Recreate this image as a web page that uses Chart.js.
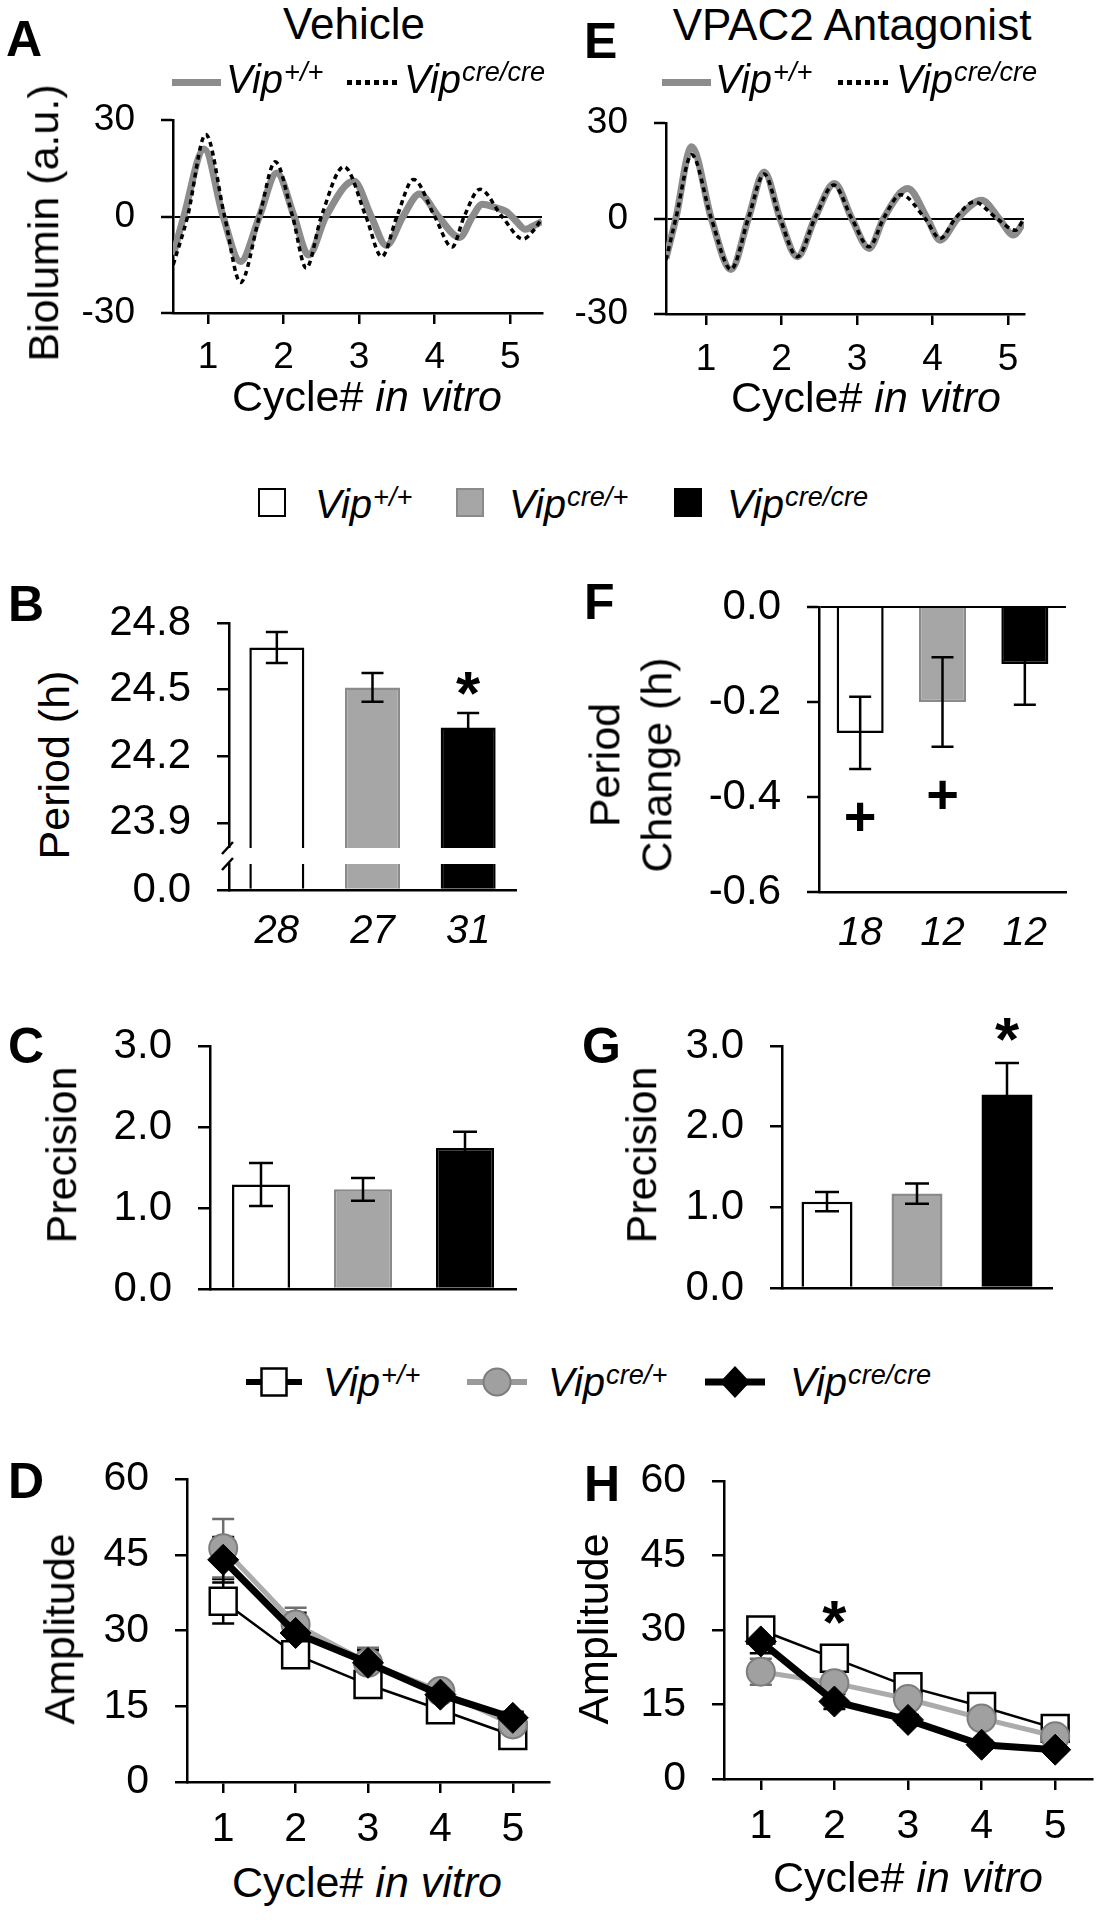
<!DOCTYPE html>
<html>
<head>
<meta charset="utf-8">
<script src="https://cdn.jsdelivr.net/npm/chart.js"></script>
<style>
  html, body { margin: 0; padding: 0; background: #fff; overflow: hidden; }
  #fig { position: relative; width: 1101px; height: 1920px; font-family: 'Liberation Sans', Arial, Helvetica, sans-serif; color: #000; }
  #fig canvas { position: absolute; }
  .t { position: absolute; line-height: 1; white-space: nowrap; }
  .sup { font-size: 0.68em; position: relative; top: -0.45em; margin-left: 1px; }
  .box { position: absolute; box-sizing: border-box; }
</style>
</head>
<body>
<div id="fig"></div>
<script>
const FONT = "'Liberation Sans', Arial, Helvetica, sans-serif";
Chart.defaults.font.family = FONT;
Chart.defaults.color = '#000';
Chart.defaults.animation = false;

// ---------- data ----------
const cycleTicks = [1, 2, 3, 4, 5];
const bioTicks = [-30, 0, 30];
const genoSup = ['+/+', 'cre/+', 'cre/cre'];

// A / E : detrended bioluminescence, [cycle, a.u.]
const vehWt = [[0.54,-12],[0.68,0],[0.95,21],[1.2,0],[1.43,-14],[1.68,0],[1.91,13.5],[2.14,0],[2.33,-12],[2.56,0],[2.93,11],[3.16,0],[3.36,-9],[3.58,0],[3.8,7],[4.05,0],[4.33,-6.5],[4.5,0],[4.63,3.8],[4.8,2.8],[4.95,1.5],[5.08,-1.5],[5.2,-4],[5.3,-3],[5.42,-1.5]];
const vehKo = [[0.54,-15],[0.73,0],[0.97,25.5],[1.22,0],[1.43,-20.5],[1.68,0],[1.89,17],[2.12,0],[2.3,-16],[2.5,0],[2.8,15.5],[3.09,0],[3.3,-12.5],[3.5,0],[3.72,11.5],[4.0,0],[4.23,-9.5],[4.39,0],[4.6,8.5],[4.89,0],[5.17,-7],[5.32,-4],[5.42,-0.5]];
const antWt = [[0.47,-12.5],[0.6,0],[0.81,22.5],[1.07,0],[1.33,-16],[1.56,0],[1.77,14.6],[1.98,0],[2.21,-12],[2.44,0],[2.7,11],[2.93,0],[3.16,-9.4],[3.35,0],[3.67,9.4],[3.93,0],[4.1,-6.8],[4.33,0],[4.65,5.7],[4.88,0],[5.07,-5.2],[5.21,-1]];
const antKo = [[0.47,-13],[0.6,0],[0.81,20],[1.07,0],[1.33,-16],[1.56,0],[1.77,14],[1.98,0],[2.21,-12],[2.44,0],[2.69,10.5],[2.93,0],[3.16,-8.9],[3.35,0],[3.58,7.5],[3.9,0],[4.1,-6.3],[4.3,0],[4.55,5.2],[4.85,0],[5.1,-3.7],[5.21,0]];

// B : period (h)
const periodN = ['28', '27', '31'];
const periodMean = [24.69, 24.51, 24.33];
const periodSem = [0.07, 0.065, 0.065];
const periodTicks = [23.9, 24.2, 24.5, 24.8];
const periodMarks = ['', '', '*'];

// F : period change (h)
const changeN = ['18', '12', '12'];
const changeMean = [-0.265, -0.2, -0.12];
const changeSem = [0.076, 0.094, 0.086];
const changeTicks = [-0.6, -0.4, -0.2, 0];
const changeMarks = ['+', '+', ''];

// C / G : precision
const precTicks = [0, 1, 2, 3];
const precVehMean = [1.29, 1.23, 1.74];
const precVehSem = [0.265, 0.14, 0.2];
const precAntMean = [1.07, 1.17, 2.4];
const precAntSem = [0.12, 0.125, 0.39];
const precAntMarks = ['', '', '*'];

// D / H : amplitude per cycle
const ampTicks = [0, 15, 30, 45, 60];
const ampVehWt = [35.8, 25.2, 19.3, 14.3, 9.2];
const ampVehWtSem = [4.4, 1.5, 1.2, 1.0, 1.0];
const ampVehHet = [46.3, 31.2, 23.6, 18.0, 11.4];
const ampVehHetSem = [5.8, 3.3, 3.0, 1.5, 1.2];
const ampVehKo = [44.0, 29.5, 23.6, 17.3, 12.7];
const ampVehKoSem = [4.5, 4.0, 2.5, 1.5, 1.2];
const ampAntWt = [30.0, 24.3, 18.6, 14.6, 10.2];
const ampAntWtSem = [2.3, 1.5, 1.2, 1.0, 0.8];
const ampAntHet = [21.6, 19.3, 16.1, 12.2, 8.6];
const ampAntHetSem = [2.6, 1.5, 1.2, 1.0, 0.8];
const ampAntKo = [27.7, 15.6, 11.9, 6.9, 5.9];
const ampAntKoSem = [2.4, 1.5, 1.0, 0.8, 0.7];
const ampAntMarks = ['', '*', '', '', ''];

// ---------- styles ----------
const barFill = ['#ffffff', '#a6a6a6', '#000000'];
const barEdge = ['#000000', '#8a8a8a', '#000000'];
const fig = document.getElementById('fig');

// ---------- plugins ----------
function valueOf(ds, j) {
  const d = ds.data[j];
  return typeof d === 'object' ? d.y : d;
}
function drawErrors(chart, opts) {
  const ctx = chart.ctx;
  chart.data.datasets.forEach((ds, i) => {
    if (!ds.errors) return;
    const meta = chart.getDatasetMeta(i);
    const ys = chart.scales[meta.yAxisID];
    ctx.save();
    ctx.strokeStyle = ds.errorColor || '#000';
    ctx.lineWidth = opts.width || 2.5;
    meta.data.forEach((el, j) => {
      const v = valueOf(ds, j), e = ds.errors[j];
      const y1 = ys.getPixelForValue(v + e), y2 = ys.getPixelForValue(v - e);
      const w = opts.cap || 11;
      ctx.beginPath();
      ctx.moveTo(el.x, y1); ctx.lineTo(el.x, y2);
      ctx.moveTo(el.x - w, y1); ctx.lineTo(el.x + w, y1);
      ctx.moveTo(el.x - w, y2); ctx.lineTo(el.x + w, y2);
      ctx.stroke();
    });
    ctx.restore();
  });
}
const errorBars = {
  id: 'errorBars',
  beforeDatasetsDraw(chart, args, opts) { if (opts.behind) drawErrors(chart, opts); },
  afterDatasetsDraw(chart, args, opts) { if (!opts.behind) drawErrors(chart, opts); }
};
const sigMarks = {
  id: 'sigMarks',
  afterDatasetsDraw(chart, args, opts) {
    const ctx = chart.ctx;
    chart.data.datasets.forEach((ds, i) => {
      if (!ds.marks) return;
      const meta = chart.getDatasetMeta(i);
      const ys = chart.scales[meta.yAxisID];
      ctx.save();
      ctx.font = 'bold ' + (opts.size || 60) + 'px ' + FONT;
      ctx.fillStyle = '#000';
      ctx.textAlign = 'center';
      ctx.textBaseline = 'alphabetic';
      ds.marks.forEach((t, j) => {
        if (!t) return;
        const v = valueOf(ds, j), e = ds.errors ? ds.errors[j] : 0;
        const below = opts.side === 'below';
        const cy = ys.getPixelForValue(below ? v - e : v + e) + (below ? opts.gap : -opts.gap);
        const m = ctx.measureText(t);
        ctx.fillText(t, meta.data[j].x, cy + (m.actualBoundingBoxAscent - m.actualBoundingBoxDescent) / 2);
      });
      ctx.restore();
    });
  }
};
Chart.register(errorBars, sigMarks);

const axisBreak = {
  id: 'axisBreak',
  afterDraw(chart) {
    const { ctx, chartArea: a } = chart;
    ctx.save();
    ctx.strokeStyle = '#000';
    ctx.lineWidth = 2.5;
    [-16, 0].forEach(dy => {
      ctx.beginPath();
      ctx.moveTo(a.left - 7, a.top + dy + 6);
      ctx.lineTo(a.left + 4, a.top + dy - 6);
      ctx.stroke();
    });
    ctx.restore();
  }
};

// ---------- helpers ----------
function noPad(s) { s.paddingTop = 0; s.paddingBottom = 0; s.paddingLeft = 0; s.paddingRight = 0; }
function panel(rect, pad, config) {
  const c = document.createElement('canvas');
  const w = rect.r - rect.l + pad.l + pad.r;
  const h = rect.b - rect.t + pad.t + pad.b;
  c.width = w; c.height = h;
  c.style.left = (rect.l - pad.l) + 'px';
  c.style.top = (rect.t - pad.t) + 'px';
  c.style.width = w + 'px'; c.style.height = h + 'px';
  fig.appendChild(c);
  const o = config.options;
  const xShown = o.scales.x.display !== false;
  o.responsive = false;
  o.layout = { autoPadding: false, padding: { left: 0, top: pad.t, right: pad.r, bottom: xShown ? 0 : pad.b } };
  o.scales.y.afterFit = s => { s.width = pad.l; noPad(s); };
  o.scales.x.afterFit = s => { s.height = pad.b; noPad(s); };
  o.plugins = Object.assign({ legend: { display: false }, tooltip: { enabled: false } }, o.plugins || {});
  return new Chart(c, config);
}

const zeroLine = c => (c.tick && c.tick.value === 0 ? '#000' : 'rgba(0,0,0,0)');

function yAxis(min, max, ticks, size, fmt, zero) {
  return {
    type: 'linear', min, max,
    afterBuildTicks: s => { s.ticks = ticks.map(v => ({ value: v })); },
    border: { color: '#000', width: 2.5 },
    grid: zero
      ? { drawOnChartArea: true, color: zeroLine, tickColor: '#000', tickLength: 12, lineWidth: 2, tickWidth: 2.5 }
      : { drawOnChartArea: false, color: '#000', tickLength: 12, lineWidth: 2.5 },
    ticks: { font: { size }, color: '#000', padding: 26, callback: v => fmt(v) }
  };
}
function xCycle(min, max, size, pad) {
  return {
    type: 'linear', min, max,
    afterBuildTicks: s => { s.ticks = cycleTicks.map(v => ({ value: v })); },
    border: { color: '#000', width: 2.5 },
    grid: { drawOnChartArea: false, color: '#000', tickLength: 11, lineWidth: 2.5 },
    ticks: { font: { size }, color: '#000', padding: pad, maxRotation: 0, autoSkip: false, callback: v => String(v) }
  };
}
function xGroups(show, pad) {
  return {
    type: 'category',
    grid: { display: false, drawTicks: false },
    border: { display: true, color: '#000', width: 2.5 },
    ticks: { display: show, font: { size: 40, style: 'italic' }, color: '#000', padding: pad, maxRotation: 0 }
  };
}
function barSet(values, errs, marks, pct) {
  return {
    data: values, errors: errs, marks,
    backgroundColor: barFill, borderColor: barEdge, borderWidth: 2.5,
    categoryPercentage: 1, barPercentage: pct, clip: 0
  };
}
function trace(pairs, gray) {
  return gray
    ? { data: pairs.map(p => ({ x: p[0], y: p[1] })), borderColor: '#8c8c8c', borderWidth: 7, pointRadius: 0, cubicInterpolationMode: 'monotone', order: 2 }
    : { data: pairs.map(p => ({ x: p[0], y: p[1] })), borderColor: '#000', borderWidth: 3.5, borderDash: [5, 4], pointRadius: 0, cubicInterpolationMode: 'monotone', order: 1 };
}
function ampSets(wt, wtE, het, hetE, ko, koE, marks) {
  const pts = arr => cycleTicks.map((c, i) => ({ x: c, y: arr[i] }));
  return [
    { data: pts(wt), errors: wtE, marks, borderColor: '#000', borderWidth: 2.5, pointStyle: 'rect', pointRadius: 19,
      pointBackgroundColor: '#fff', pointBorderColor: '#000', pointBorderWidth: 2.5, order: 3 },
    { data: pts(het), errors: hetE, errorColor: '#6e6e6e', borderColor: '#ababab', borderWidth: 5, pointStyle: 'circle', pointRadius: 14,
      pointBackgroundColor: '#a0a0a0', pointBorderColor: '#7d7d7d', pointBorderWidth: 2, order: 2 },
    { data: pts(ko), errors: koE, borderColor: '#000', borderWidth: 7, pointStyle: 'rectRot', pointRadius: 15.5,
      pointBackgroundColor: '#000', pointBorderColor: '#000', pointBorderWidth: 1, order: 1 }
  ];
}
const f1 = v => v.toFixed(1);
const f0 = v => String(v);

// ---------- panels ----------
// A
panel({ l: 173, t: 120, r: 542, b: 313 }, { l: 130, t: 25, r: 12, b: 60 }, {
  type: 'line',
  data: { datasets: [trace(vehWt, true), trace(vehKo, false)] },
  options: { scales: { x: xCycle(0.537, 5.42, 37, 12), y: yAxis(-30, 30, bioTicks, 37, f0, true) } }
});
// E
panel({ l: 666, t: 123, r: 1024, b: 314 }, { l: 130, t: 25, r: 12, b: 60 }, {
  type: 'line',
  data: { datasets: [trace(antWt, true), trace(antKo, false)] },
  options: { scales: { x: xCycle(0.47, 5.21, 37, 13), y: yAxis(-30, 30, bioTicks, 37, f0, true) } }
});
// B upper (broken axis)
panel({ l: 229, t: 623, r: 516, b: 848 }, { l: 140, t: 30, r: 12, b: 0 }, {
  type: 'bar',
  data: { labels: periodN, datasets: [barSet(periodMean, periodSem, periodMarks, 0.575)] },
  options: {
    scales: { x: Object.assign(xGroups(false, 0), { display: false }), y: yAxis(23.787, 24.8, periodTicks, 42, f1, false) },
    plugins: { errorBars: { cap: 11 }, sigMarks: { gap: 29, size: 62, side: 'above' } }
  }
});
// B lower
panel({ l: 229, t: 864, r: 516, b: 890 }, { l: 140, t: 28, r: 12, b: 70 }, {
  type: 'bar',
  data: { labels: periodN, datasets: [barSet(periodMean, null, null, 0.575)] },
  options: { scales: { x: xGroups(true, 18), y: yAxis(0, 0.1, [0], 42, f1, false) } },
  plugins: [axisBreak]
});
// F
panel({ l: 819, t: 607, r: 1066, b: 892 }, { l: 150, t: 25, r: 12, b: 70 }, {
  type: 'bar',
  data: { labels: changeN, datasets: [barSet(changeMean, changeSem, changeMarks, 0.571)] },
  options: {
    scales: { x: xGroups(true, 18), y: yAxis(-0.6, 0, changeTicks, 42, f1, true) },
    plugins: { errorBars: { cap: 11 }, sigMarks: { gap: 48, size: 56, side: 'below' } }
  }
});
// C
panel({ l: 210, t: 1046, r: 516, b: 1289 }, { l: 130, t: 25, r: 12, b: 32 }, {
  type: 'bar',
  data: { labels: periodN, datasets: [barSet(precVehMean, precVehSem, null, 0.569)] },
  options: {
    scales: { x: xGroups(false, 0), y: yAxis(0, 3, precTicks, 42, f1, false) },
    plugins: { errorBars: { cap: 12 } }
  }
});
// G
panel({ l: 782, t: 1046, r: 1052, b: 1288 }, { l: 130, t: 40, r: 12, b: 32 }, {
  type: 'bar',
  data: { labels: changeN, datasets: [barSet(precAntMean, precAntSem, precAntMarks, 0.567)] },
  options: {
    scales: { x: xGroups(false, 0), y: yAxis(0, 3, precTicks, 42, f1, false) },
    plugins: { errorBars: { cap: 12 }, sigMarks: { gap: 33, size: 62, side: 'above' } }
  }
});
// D
panel({ l: 187, t: 1479, r: 549, b: 1782 }, { l: 120, t: 25, r: 12, b: 75 }, {
  type: 'line',
  data: { datasets: ampSets(ampVehWt, ampVehWtSem, ampVehHet, ampVehHetSem, ampVehKo, ampVehKoSem, null) },
  options: {
    scales: { x: xCycle(0.5, 5.5, 41, 12), y: yAxis(0, 60, ampTicks, 41, f0, false) },
    plugins: { errorBars: { cap: 11, behind: true } }
  }
});
// H
panel({ l: 724, t: 1481, r: 1092, b: 1779 }, { l: 120, t: 25, r: 8, b: 75 }, {
  type: 'line',
  data: { datasets: ampSets(ampAntWt, ampAntWtSem, ampAntHet, ampAntHetSem, ampAntKo, ampAntKoSem, ampAntMarks) },
  options: {
    scales: { x: xCycle(0.5, 5.5, 41, 12), y: yAxis(0, 60, ampTicks, 41, f0, false) },
    plugins: { errorBars: { cap: 11, behind: true }, sigMarks: { gap: 38, size: 62, side: 'above' } }
  }
});

// ---------- text ----------
function label(html, x, base, size, o) {
  o = o || {};
  const d = document.createElement('div');
  d.className = 't';
  d.innerHTML = html;
  d.style.fontSize = size + 'px';
  if (o.bold) d.style.fontWeight = 'bold';
  d.style.left = x + 'px';
  d.style.top = (base - 0.85 * size) + 'px';
  if (o.center) d.style.transform = 'translateX(-50%)';
  fig.appendChild(d);
}
function vlabel(html, cx, cy, size) {
  const d = document.createElement('div');
  d.className = 't';
  d.innerHTML = html;
  d.style.fontSize = size + 'px';
  d.style.lineHeight = '1.2';
  d.style.textAlign = 'center';
  d.style.left = cx + 'px';
  d.style.top = cy + 'px';
  d.style.transform = 'translate(-50%, -50%) rotate(-90deg)';
  fig.appendChild(d);
}
function box(x, y, w, h, css) {
  const d = document.createElement('div');
  d.className = 'box';
  d.style.left = x + 'px'; d.style.top = y + 'px';
  d.style.width = w + 'px'; d.style.height = h + 'px';
  d.style.cssText += css;
  fig.appendChild(d);
}
const vip = s => '<i>Vip<span class="sup">' + s + '</span></i>';
const cycleTitle = 'Cycle# <i>in vitro</i>';

// panel letters
[['A', 6, 56], ['E', 584, 58], ['B', 8, 621], ['F', 584, 619], ['C', 8, 1063], ['G', 582, 1063], ['D', 8, 1498], ['H', 584, 1501]]
  .forEach(p => label(p[0], p[1], p[2], 50, { bold: true }));

// titles
label('Vehicle', 354, 39, 44, { center: true });
label('VPAC2 Antagonist', 852, 40, 44, { center: true });

// trace legends (A, E)
[[172, 226, 347, 404], [662, 715, 838, 896]].forEach(p => {
  box(p[0], 79, 49, 7, 'background:#8c8c8c;');
  label(vip(genoSup[0]), p[1], 93, 40);
  box(p[2], 80, 53, 4.5, 'background:repeating-linear-gradient(90deg,#000 0 5px,transparent 5px 9px);');
  label(vip(genoSup[2]), p[3], 93, 40);
});

// bar legend
box(258, 488, 28, 29, 'background:#fff;border:2.5px solid #000;');
box(456, 488, 28, 29, 'background:#a6a6a6;border:2px solid #8a8a8a;');
box(674, 488, 28, 29, 'background:#000;');
label(vip(genoSup[0]), 315, 518, 40);
label(vip(genoSup[1]), 509, 518, 40);
label(vip(genoSup[2]), 727, 518, 40);

// line legend
function legendSymbol(cx, cy, kind) {
  const s = document.createElement('div');
  s.className = 'box';
  s.style.left = (cx - 30) + 'px'; s.style.top = (cy - 18) + 'px';
  let shape, line;
  if (kind === 0) {
    line = '<line x1="2" y1="18" x2="58" y2="18" stroke="#000" stroke-width="6"/>';
    shape = '<rect x="17.5" y="4.5" width="25" height="27" fill="#fff" stroke="#000" stroke-width="2.5"/>';
  } else if (kind === 1) {
    line = '<line x1="0" y1="18" x2="60" y2="18" stroke="#9a9a9a" stroke-width="6"/>';
    shape = '<circle cx="30" cy="18" r="13.5" fill="#a0a0a0" stroke="#7d7d7d" stroke-width="2"/>';
  } else {
    line = '<line x1="0" y1="18" x2="60" y2="18" stroke="#000" stroke-width="7"/>';
    shape = '<polygon points="30,2 45,18 30,34 15,18" fill="#000"/>';
  }
  s.innerHTML = '<svg width="60" height="36">' + line + shape + '</svg>';
  fig.appendChild(s);
}
legendSymbol(274, 1382, 0);
legendSymbol(497, 1382, 1);
legendSymbol(735, 1382, 2);
label(vip(genoSup[0]), 323, 1396, 40);
label(vip(genoSup[1]), 548, 1396, 40);
label(vip(genoSup[2]), 790, 1396, 40);

// axis titles
label(cycleTitle, 367, 412, 43, { center: true });
label(cycleTitle, 866, 413, 43, { center: true });
label(cycleTitle, 367, 1898, 43, { center: true });
label(cycleTitle, 908, 1893, 43, { center: true });
vlabel('Biolumin (a.u.)', 44, 223, 43);
vlabel('Period (h)', 55, 765, 43);
vlabel('Period<br>Change (h)', 631, 765, 43);
vlabel('Precision', 62, 1155, 43);
vlabel('Precision', 642, 1155, 43);
vlabel('Amplitude', 60, 1629, 43);
vlabel('Amplitude', 594, 1629, 43);
</script>
</body>
</html>
